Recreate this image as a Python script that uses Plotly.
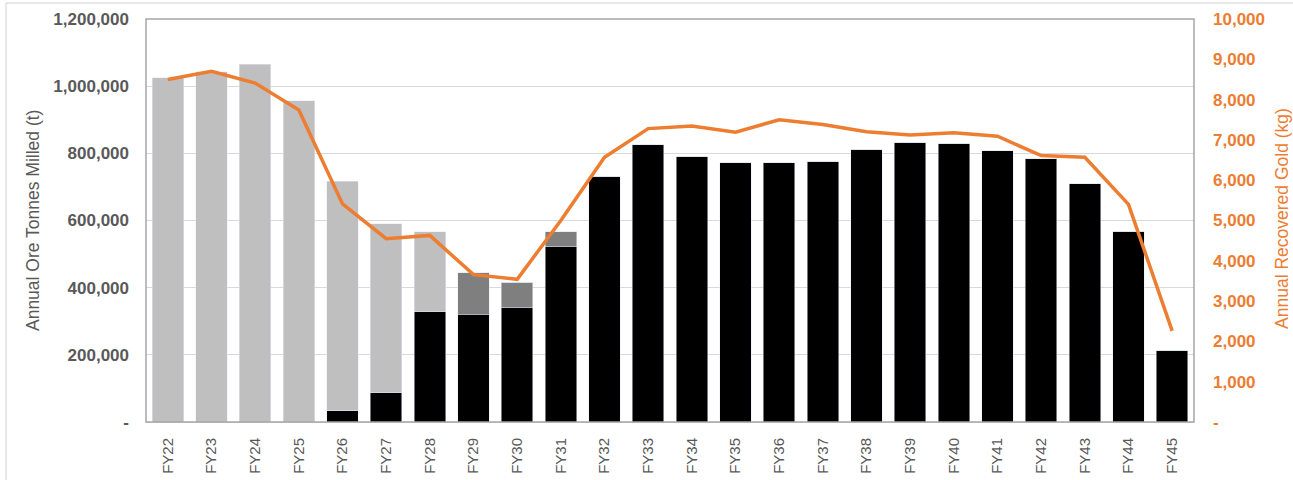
import plotly.graph_objects as go

categories = ["FY22", "FY23", "FY24", "FY25", "FY26", "FY27", "FY28", "FY29", "FY30",
              "FY31", "FY32", "FY33", "FY34", "FY35", "FY36", "FY37", "FY38", "FY39",
              "FY40", "FY41", "FY42", "FY43", "FY44", "FY45"]

# Annual ore tonnes milled (t), stacked by source
black_tonnes = [0, 0, 0, 0, 34000, 87000, 328000, 321000, 340000, 522000, 732000, 825000,
                792000, 772000, 772000, 776000, 812000, 833000, 830000, 807000, 784000,
                709000, 568000, 214000]
darkgray_tonnes = [0, 0, 0, 0, 0, 0, 0, 124000, 76000, 45000, 0, 0,
                   0, 0, 0, 0, 0, 0, 0, 0, 0, 0, 0, 0]
lightgray_tonnes = [1025000, 1043000, 1065000, 957000, 683000, 503000, 239000, 0, 0, 0, 0, 0,
                    0, 0, 0, 0, 0, 0, 0, 0, 0, 0, 0, 0]

# Annual recovered gold (kg)
gold_kg = [8500, 8700, 8410, 7740, 5410, 4550, 4630, 3656, 3540, 5000, 6570, 7280,
           7345, 7190, 7500, 7380, 7205, 7120, 7180, 7090, 6610, 6570, 5400, 2260]

left_tickvals = [0, 200000, 400000, 600000, 800000, 1000000, 1200000]
left_ticktext = ["-", "200,000", "400,000", "600,000", "800,000", "1,000,000", "1,200,000"]
right_tickvals = [0, 1000, 2000, 3000, 4000, 5000, 6000, 7000, 8000, 9000, 10000]
right_ticktext = ["-", "1,000", "2,000", "3,000", "4,000", "5,000", "6,000", "7,000",
                  "8,000", "9,000", "10,000"]

FONT = "Liberation Sans, Arial, sans-serif"
GRAY = "#595959"
ORANGE = "#ED7D31"

fig = go.Figure()
fig.add_trace(go.Bar(x=categories, y=black_tonnes, marker_color="#000000",
                     name="Black", showlegend=False))
fig.add_trace(go.Bar(x=categories, y=darkgray_tonnes, marker_color="#7F7F7F",
                     name="Dark grey", showlegend=False))
fig.add_trace(go.Bar(x=categories, y=lightgray_tonnes, marker_color="#BFBFBF",
                     name="Light grey", showlegend=False))
fig.add_trace(go.Scatter(x=categories, y=gold_kg, mode="lines", yaxis="y2",
                         line=dict(color=ORANGE, width=3.5), name="Gold",
                         showlegend=False))

fig.update_layout(
    width=1293, height=480, autosize=False,
    margin=dict(l=146, r=99, t=19, b=58, autoexpand=False),
    paper_bgcolor="white", plot_bgcolor="white",
    barmode="stack", bargap=0.28,
    font=dict(family=FONT, color=GRAY),
    xaxis=dict(
        tickangle=-90, ticks="", showgrid=False,
        tickfont=dict(family=FONT, size=15, color=GRAY),
        ticklabelstandoff=9,
        showline=True, linecolor="#D9D9D9", linewidth=1,
    ),
    yaxis=dict(
        range=[0, 1200000], tickvals=left_tickvals, ticktext=left_ticktext,
        showgrid=True, gridcolor="#D9D9D9", gridwidth=1, zeroline=False,
        ticks="", tickfont=dict(family=FONT, size=17, color=GRAY, weight="bold"),
        ticklabelstandoff=16,
    ),
    yaxis2=dict(
        range=[0, 10000], tickvals=right_tickvals, ticktext=right_ticktext,
        overlaying="y", side="right", showgrid=False, zeroline=False,
        ticks="", tickfont=dict(family=FONT, size=17, color=ORANGE, weight="bold"),
        ticklabelstandoff=18,
    ),
    annotations=[
        dict(text="Annual Ore Tonnes Milled (t)", xref="paper", yref="paper",
             x=-0.1079, y=0.501, textangle=-90, showarrow=False,
             font=dict(family=FONT, size=17.5, color=GRAY), xanchor="center", yanchor="middle"),
        dict(text="Annual Recovered Gold (kg)", xref="paper", yref="paper",
             x=1.084, y=0.504, textangle=-90, showarrow=False,
             font=dict(family=FONT, size=17.5, color=ORANGE), xanchor="center", yanchor="middle"),
    ],
    shapes=[
        dict(type="rect", xref="paper", yref="paper", x0=0, x1=1, y0=0, y1=1,
             line=dict(color="#A6A6A6", width=1.5), layer="above"),
        dict(type="line", xref="paper", yref="paper", x0=-0.1336, x1=1.1, y0=1.0397, y1=1.0397,
             line=dict(color="#D0D0D0", width=1)),
        dict(type="line", xref="paper", yref="paper", x0=-0.1336, x1=-0.1336, y0=-0.2, y1=1.0397,
             line=dict(color="#D0D0D0", width=1)),
    ],
)

fig.write_html("out.html", config={"displayModeBar": False},
               post_script="document.body.style.margin='0';document.body.style.overflow='hidden';")
